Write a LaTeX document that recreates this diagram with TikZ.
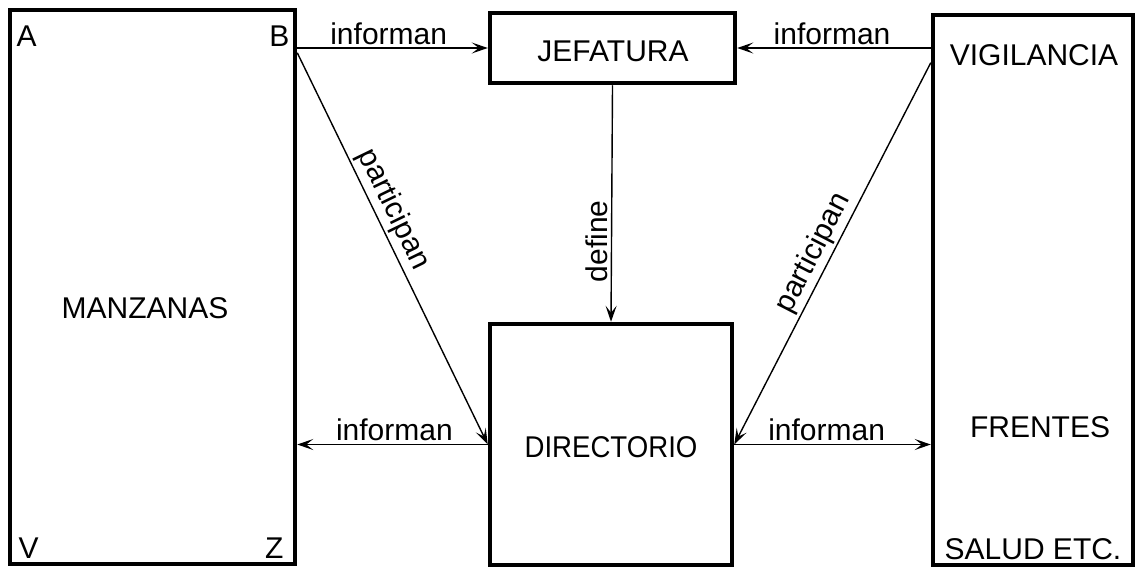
\documentclass[tikz,border=0pt]{standalone}
\usepackage{fontspec}
\setmainfont{Liberation Sans}
\usetikzlibrary{arrows.meta}
\begin{document}
\begin{tikzpicture}[x=1pt,y=-1pt,
  every node/.style={font=\fontsize{30}{32}\selectfont},
  boxnode/.style={draw, line width=4.5pt, inner sep=0pt},
  arr/.style={line width=1.4pt, -{Stealth[length=16pt,width=11pt,inset=7pt]}},
  lbl/.style={inner sep=3pt}]
\useasboundingbox (0,0) rectangle (1139,570);
% boxes
\node[boxnode, minimum width=285pt, minimum height=554pt] (mz) at (152.5,287) {};
\node[boxnode, minimum width=245pt, minimum height=70pt] (jef) at (612.5,48) {};
\node[boxnode, minimum width=242pt, minimum height=241pt] (dir) at (611,444.5) {};
\node[boxnode, minimum width=200pt, minimum height=550pt] (vig) at (1033,290) {};
% texts
\node (tjef) at (613,51) {JEFATURA};
\node[xscale=0.92] (tdir) at (611,447) {DIRECTORIO};
\node (tmz) at (145,308) {MANZANAS};
\node (ta) at ([xshift=19pt,yshift=-28pt]mz.north west) {A};
\node (tb) at ([xshift=-18pt,yshift=-28pt]mz.north east) {B};
\node (tv) at ([xshift=21pt,yshift=18pt]mz.south west) {V};
\node (tz) at ([xshift=-23pt,yshift=18pt]mz.south east) {Z};
\node (tvig) at (1034,55) {VIGILANCIA};
\node (tfr) at (1040,427) {FRENTES};
\node (tsal) at (1033,549) {SALUD ETC.};
% connectors
\draw[arr] (jef.west -| mz.east) -- (jef.west)
  node[lbl, pos=0.48, above] {informan};
\draw[arr] (jef.east -| vig.west) -- (jef.east)
  node[lbl, pos=0.51, above] {informan};
\draw[arr] (jef.south) -- (dir.north)
  node[lbl, pos=0.66, rotate=90, anchor=south] {define};
\coordinate (pl) at ([yshift=-45pt]mz.north east);
\coordinate (pr) at ([yshift=-50pt]vig.north west);
\draw[arr] (pl) -- (dir.west)
  node[lbl, pos=0.42, sloped, above] {participan};
\draw[arr] (pr) -- (dir.east);
\path (dir.east) -- (pr) node[lbl, pos=0.48, sloped, above] {participan};
\draw[arr] (dir.west) -- (dir.west -| mz.east)
  node[lbl, pos=0.49, above] {informan};
\draw[arr] (dir.east) -- (dir.east -| vig.west)
  node[lbl, pos=0.47, above] {informan};
\end{tikzpicture}
\end{document}
